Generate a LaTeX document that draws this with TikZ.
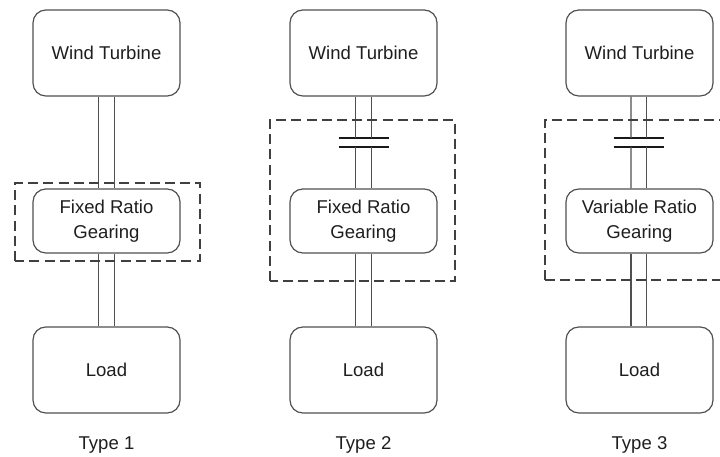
\documentclass[tikz,border=0pt]{standalone}
\usepackage{fontspec}
\setmainfont{Liberation Sans}
\usepackage{tikz}
\usetikzlibrary{positioning,calc}
\definecolor{linegray}{RGB}{80,80,80}
\definecolor{txtgray}{RGB}{30,30,30}
\definecolor{bargray}{RGB}{25,25,25}

\tikzset{
    blockbox/.style={draw=linegray, line width=0.85pt, rounded corners=0.32cm, minimum width=3.675cm, align=center, text=txtgray},
    bigbox/.style={blockbox, minimum height=2.15cm},
    gearbox/.style={blockbox, minimum height=1.6cm},
    shaft/.style={draw=linegray, line width=0.85pt},
    clutchbar/.style={draw=bargray, line width=1.8pt},
    groupbox/.style={draw=linegray!80!black, line width=0.9pt, dash pattern=on 0.25cm off 0.13cm},
    typelabel/.style={text=txtgray}
}

\begin{document}
\begin{tikzpicture}[every node/.style={font=\fontsize{13.2}{17.5}\selectfont}]
    \useasboundingbox (0,0) rectangle (18,11.425);
    \clip (0,0) rectangle (18,11.425);

    % Type 1: fixed ratio gearing
    \node[bigbox] (wt1) at (2.6625,10.1) {Wind Turbine};
    \node[gearbox] (gr1) at (2.6625,5.9) {Fixed Ratio\\Gearing};
    \node[bigbox] (ld1) at (2.6625,2.175) {Load};
    \node[typelabel] (ty1) at (2.6625,0.3) {Type 1};

    \draw[shaft] ([xshift=-0.19cm]wt1.south) -- ([xshift=-0.19cm]gr1.north);
    \draw[shaft] ([xshift=0.19cm]wt1.south) -- ([xshift=0.19cm]gr1.north);
    \draw[shaft] ([xshift=-0.19cm]gr1.south) -- ([xshift=-0.19cm]ld1.north);
    \draw[shaft] ([xshift=0.19cm]gr1.south) -- ([xshift=0.19cm]ld1.north);

    \draw[groupbox] (0.375,4.9) rectangle (5.0,6.85);

    % Type 2: clutch + fixed ratio gearing
    \node[bigbox] (wt2) at (9.0875,10.1) {Wind Turbine};
    \node[gearbox] (gr2) at (9.0875,5.9) {Fixed Ratio\\Gearing};
    \node[bigbox] (ld2) at (9.0875,2.175) {Load};
    \node[typelabel] (ty2) at (9.0875,0.3) {Type 2};

    \coordinate (cl2a) at (9.0875,7.975);
    \coordinate (cl2b) at (9.0875,7.75);
    \draw[clutchbar] ([xshift=-0.625cm]cl2a) -- ([xshift=0.625cm]cl2a);
    \draw[clutchbar] ([xshift=-0.625cm]cl2b) -- ([xshift=0.625cm]cl2b);

    \draw[shaft] ([xshift=-0.19cm]wt2.south) -- ([xshift=-0.19cm]cl2a);
    \draw[shaft] ([xshift=0.19cm]wt2.south) -- ([xshift=0.19cm]cl2a);
    \draw[shaft] ([xshift=-0.19cm]cl2b) -- ([xshift=-0.19cm]gr2.north);
    \draw[shaft] ([xshift=0.19cm]cl2b) -- ([xshift=0.19cm]gr2.north);
    \draw[shaft] ([xshift=-0.19cm]gr2.south) -- ([xshift=-0.19cm]ld2.north);
    \draw[shaft] ([xshift=0.19cm]gr2.south) -- ([xshift=0.19cm]ld2.north);

    \draw[groupbox] (6.75,4.4) rectangle (11.375,8.425);

    % Type 3: clutch + variable ratio gearing
    \node[bigbox] (wt3) at (15.9875,10.1) {Wind Turbine};
    \node[gearbox] (gr3) at (15.9875,5.9) {Variable Ratio\\Gearing};
    \node[bigbox] (ld3) at (15.9875,2.175) {Load};
    \node[typelabel] (ty3) at (15.9875,0.3) {Type 3};

    \coordinate (cl3a) at (15.9625,7.975);
    \coordinate (cl3b) at (15.9625,7.75);
    \draw[clutchbar] ([xshift=-0.625cm]cl3a) -- ([xshift=0.625cm]cl3a);
    \draw[clutchbar] ([xshift=-0.625cm]cl3b) -- ([xshift=0.625cm]cl3b);

    \draw[shaft] ([xshift=-0.215cm]wt3.south) -- ([xshift=-0.19cm]cl3a);
    \draw[shaft] ([xshift=0.165cm]wt3.south) -- ([xshift=0.19cm]cl3a);
    \draw[shaft] ([xshift=-0.19cm]cl3b) -- ([xshift=-0.215cm]gr3.north);
    \draw[shaft] ([xshift=0.19cm]cl3b) -- ([xshift=0.165cm]gr3.north);
    \draw[shaft] ([xshift=-0.215cm]gr3.south) -- ([xshift=-0.215cm]ld3.north);
    \draw[shaft] ([xshift=0.165cm]gr3.south) -- ([xshift=0.165cm]ld3.north);

    % right side runs off the picture
    \draw[groupbox] (13.625,4.425) -- (13.625,8.425) -- (18.3,8.425);
    \draw[groupbox] (13.625,4.425) -- (18.3,4.425);
\end{tikzpicture}
\end{document}
